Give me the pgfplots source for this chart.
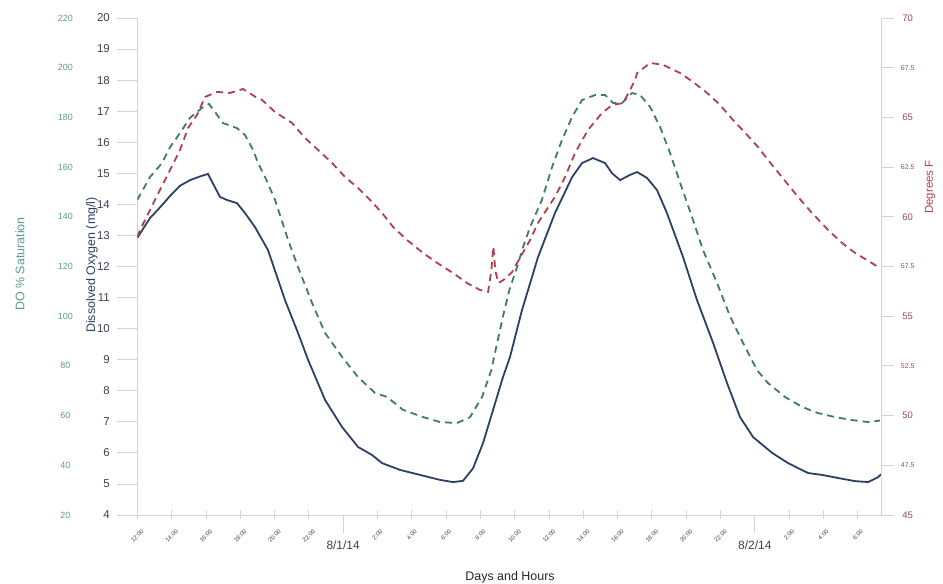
\documentclass[border=0pt]{standalone}
\usepackage{fontspec}
\setmainfont{Liberation Sans}
\usepackage{pgfplots}
\pgfplotsset{compat=1.18}

\definecolor{doblue}{HTML}{2E3F66}
\definecolor{doaxis}{HTML}{3A4152}
\definecolor{satgreen}{HTML}{3F7D5E}
\definecolor{satlabel}{HTML}{5E9A8E}
\definecolor{tempred}{HTML}{B0404E}
\definecolor{templabel}{HTML}{A04A50}
\definecolor{axisgray}{HTML}{D4D4D4}

\newcommand{\hr}[1]{\rotatebox{45}{\fontsize{6}{7}\selectfont #1}}
\newcommand{\sm}[1]{{\fontsize{7}{8}\selectfont #1}}

\pgfplotsset{
  base/.style={
    scale only axis, width=744.4bp, height=497bp,
    at={(137.3bp,69bp)}, anchor=south west,
    xmin=0, xmax=43.4,
    /pgf/number format/assume math mode=true,
    axis line style={axisgray, line width=0.8bp},
    tick style={axisgray, line width=0.8bp},
  },
}

\begin{document}
\begin{tikzpicture}[x=1bp,y=1bp]
\path[use as bounding box] (0,0) rectangle (943,584);

% Time axis
\begin{axis}[base,
  axis x line*=bottom, axis y line=none,
  ymin=0, ymax=1,
  xtick={0,2,4,6,8,10,14,16,18,20,22,24,26,28,30,32,34,38,40,42},
  xticklabels={\hr{12:00},\hr{14:00},\hr{16:00},\hr{18:00},\hr{20:00},\hr{22:00},
    \hr{2:00},\hr{4:00},\hr{6:00},\hr{8:00},\hr{10:00},\hr{12:00},\hr{14:00},
    \hr{16:00},\hr{18:00},\hr{20:00},\hr{22:00},\hr{2:00},\hr{4:00},\hr{6:00}},
  xtick align=center, major tick length=9bp,
  xticklabel style={anchor=north, text=black!75, yshift=-6bp},
  extra x ticks={12,36},
  extra x tick labels={8/1/14,8/2/14},
  extra x tick style={xtick align=outside, major tick length=18bp,
    tick label style={font=\fontsize{12}{14}\selectfont, text=black!85, yshift=2bp}},
]
\end{axis}

% Dissolved oxygen, mg/l (left inner axis)
\begin{axis}[base,
  axis y line*=left, axis x line=none,
  ymin=4, ymax=20, ytick={4,5,...,20},
  ytick align=outside, major tick length=20bp,
  yticklabel style={font=\fontsize{11.5}{13}\selectfont, text=doaxis, xshift=-4bp},
]
\addplot[doblue, line width=1.8bp] coordinates {
(0,12.92) (0.74,13.56) (1.32,13.9) (1.91,14.27) (2.49,14.6) (3.08,14.78)
(3.66,14.9) (4.12,14.98) (4.82,14.24) (5.23,14.14) (5.81,14.04) (6.28,13.72)
(6.86,13.27) (7.62,12.53) (8.61,10.92) (9.37,9.86) (9.96,8.99) (10.95,7.70)
(11.94,6.83) (12.87,6.19) (13.69,5.93) (14.27,5.67) (15.32,5.45) (16.49,5.29)
(17.65,5.13) (18.41,5.06) (18.99,5.10) (19.57,5.50) (20.16,6.32) (20.74,7.38)
(21.32,8.44) (21.73,9.09) (22.43,10.6) (23.36,12.3) (24.35,13.72) (25.35,14.88)
(25.93,15.33) (26.57,15.49) (27.27,15.33) (27.68,15.0) (28.15,14.78) (28.73,14.95)
(29.14,15.04) (29.72,14.85) (30.3,14.46) (30.88,13.72) (31.82,12.3) (32.63,10.92)
(33.57,9.54) (34.38,8.25) (35.14,7.15) (35.9,6.51) (36.31,6.32) (37.01,6.0)
(37.94,5.67) (39.11,5.35) (39.93,5.29) (40.86,5.19) (41.85,5.09) (42.61,5.06)
(43.19,5.22) (43.36,5.31)
};
\end{axis}

% DO % saturation (outer left axis)
\begin{axis}[base,
  axis y line*=left, axis x line=none,
  y axis line style={draw=none},
  ymin=20, ymax=220, ytick={20,40,...,220},
  major tick length=0bp,
  yticklabel style={anchor=center, xshift=-72bp,
    font=\fontsize{9}{11}\selectfont, text=satlabel},
]
\addplot[satgreen, line width=1.8bp, dash pattern=on 7bp off 5bp] coordinates {
(0,146.8) (0.74,156.0) (1.44,161.6) (1.91,168.0) (2.49,173.7) (3.07,179.8)
(3.77,183.8) (4.18,185.4) (4.53,182.2) (5.0,177.7) (5.81,175.7) (6.28,172.9)
(6.75,166.9) (7.04,161.6) (7.45,156.0) (8.03,146.8) (8.79,130.7) (9.37,119.8)
(10.19,105.3) (10.95,93.2) (11.94,83.6) (12.87,75.5) (13.86,69.1) (14.56,67.5)
(15.49,62.3) (16.66,59.4) (17.65,57.4) (18.64,57.0) (19.40,59.4) (20.10,67.5)
(20.64,78.3) (20.99,89.6) (21.34,100.5) (21.69,110.5) (22.14,119.8) (22.49,127.8)
(22.90,135.9) (23.59,146.8) (24.18,160.0) (24.76,170.9) (25.35,180.2) (25.93,187.0)
(26.69,189.0) (27.27,189.0) (27.74,185.8) (28.26,185.8) (28.85,189.8) (29.32,189.0)
(29.90,184.2) (30.48,176.1) (31.06,165.7) (31.65,153.6) (32.40,138.7) (32.98,126.6)
(33.80,113.4) (34.57,99.7) (35.32,89.2) (36.13,78.3) (36.77,73.1) (37.76,67.5)
(38.76,63.5) (39.69,61.0) (40.68,59.4) (41.67,58.2) (42.61,57.4) (43.29,58.0)
};
\end{axis}

% Water temperature, degrees F (right axis)
\begin{axis}[base,
  axis y line*=right, axis x line=none,
  ymin=45, ymax=70, ytick={45,47.5,...,70},
  yticklabels={45,\sm{47.5},50,\sm{52.5},55,\sm{57.5},60,\sm{62.5},65,\sm{67.5},70},
  ytick align=outside, major tick length=12bp,
  yticklabel style={anchor=center, xshift=14bp,
    font=\fontsize{9.5}{11}\selectfont, text=templabel},
]
\addplot[tempred, line width=1.8bp, dash pattern=on 7bp off 5bp] coordinates {
(0,58.98) (0.16,59.34) (0.74,60.34) (1.32,61.35) (1.91,62.35) (2.49,63.36)
(2.96,64.47) (3.48,65.12) (3.95,66.03) (4.65,66.28) (5.41,66.23) (6.16,66.43)
(6.98,65.98) (7.27,65.88) (8.03,65.27) (9.02,64.72) (9.78,63.96) (10.54,63.36)
(11.35,62.71) (12.11,62.0) (12.87,61.45) (13.69,60.74) (14.27,60.19) (14.91,59.49)
(15.73,58.83) (16.66,58.18) (17.48,57.68) (18.41,57.17) (19.22,56.67) (19.98,56.32)
(20.45,56.22) (20.64,57.3) (20.76,58.5) (20.87,57.3) (21.05,56.67) (21.34,56.82)
(21.85,57.22) (22.37,58.03) (22.90,58.83) (23.36,59.69) (24.35,61.0) (24.94,62.0)
(25.52,63.21) (26.28,64.37) (27.09,65.22) (27.68,65.62) (28.32,65.72) (28.73,66.38)
(29.02,66.88) (29.14,67.23) (29.90,67.74) (30.66,67.64) (31.65,67.23) (32.40,66.78)
(33.22,66.23) (33.98,65.62) (34.73,64.87) (35.44,64.22) (36.19,63.51) (36.77,62.86)
(37.58,62.0) (38.52,61.0) (39.34,60.19) (40.27,59.34) (41.09,58.68) (41.85,58.18)
(42.72,57.73) (43.29,57.42)
};
\end{axis}

\node[rotate=90, text=satlabel, font=\fontsize{12.5}{14}\selectfont] at (20,320) {DO \% Saturation};
\node[rotate=90, text=doblue, font=\fontsize{12.5}{14}\selectfont] at (92,319) {Dissolved Oxygen (mg/l)};
\node[rotate=90, text=tempred, font=\fontsize{11.5}{13}\selectfont] at (930,397) {Degrees F};
\node[text=black!85, font=\fontsize{12.5}{14}\selectfont] at (510,7) {Days and Hours};
\end{tikzpicture}
\end{document}
